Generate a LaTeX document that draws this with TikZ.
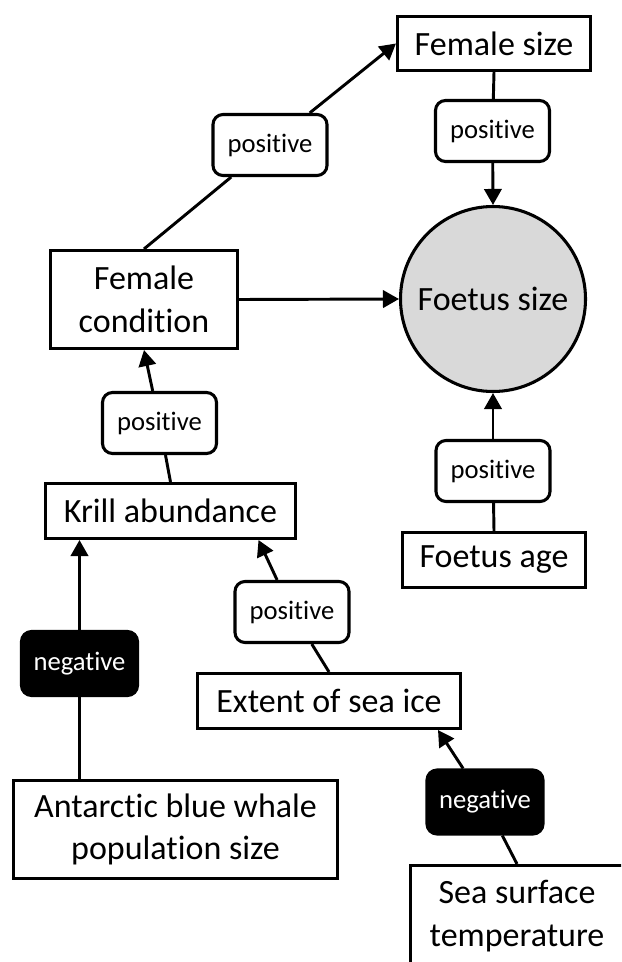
\documentclass[tikz,border=0pt]{standalone}
\usepackage{fontspec}
\setmainfont{Carlito}[Ligatures=NoCommon]
\usetikzlibrary{arrows.meta,calc}

\begin{document}
\begin{tikzpicture}[x=0.75pt,y=-0.75pt,
  box/.style={draw, line width=2.3pt, inner sep=0pt, align=center, font=\fontsize{25.5}{32}\selectfont},
  poslab/.style={draw, fill=white, line width=2.3pt, rounded corners=7.5pt, inner sep=0pt,
    minimum width=85.5pt, minimum height=45.75pt, font=\fontsize{20}{24}\selectfont},
  neglab/.style={draw, fill=black, text=white, line width=2.3pt, rounded corners=7.5pt, inner sep=0pt,
    minimum width=87pt, minimum height=48pt, font=\fontsize{20}{24}\selectfont},
  arr/.style={line width=2.2pt, -{Triangle[length=12pt,width=13pt]}},
  con/.style={line width=2.2pt}]

\useasboundingbox (0,0) rectangle (621,962);
\clip (0,0) rectangle (621,962);

% boxes
\node[box, minimum width=144.75pt, minimum height=40.5pt] (fsize) at (494,43.5) {Female size};
\node[box, minimum width=140.25pt, minimum height=73.5pt] (fcond) at (144,299.5) {Female\\condition};
\node[box, circle, fill=gray!30, minimum size=138.75pt] (foetus) at (493,299) {Foetus size};
\node[box, minimum width=137.25pt, minimum height=41.25pt] (fage) at (494,560) {Foetus age};
\node[box, minimum width=187.5pt, minimum height=41.25pt] (krill) at (170.5,511) {Krill abundance};
\node[box, minimum width=197.25pt, minimum height=41.25pt] (ice) at (329,701) {Extent of sea ice};
\node[box, minimum width=243pt, minimum height=73.5pt] (whale) at (175.5,829.5) {Antarctic blue whale\\population size};
\node[box, minimum width=159.75pt, minimum height=75.75pt] (sst) at (517,916) {Sea surface\\temperature};

% effect labels
\node[poslab] (p1) at (270,145) {positive};
\node[poslab] (p2) at (492.5,131) {positive};
\node[poslab] (p3) at (159.5,423) {positive};
\node[poslab] (p4) at (493,471) {positive};
\node[poslab] (p5) at (292,612) {positive};
\node[neglab] (n1) at (79.5,663.5) {negative};
\node[neglab] (n2) at (485,802) {negative};

% links
\draw[con] (fcond.north) -- (p1);
\draw[arr] (p1) -- (fsize.west);
\draw[con] (fsize.south) -- (p2);
\draw[arr] (p2) -- (foetus.north);
\draw[arr] (fcond.east) -- (foetus.west);
\draw[con] (krill.north) -- (p3);
\draw[arr] (p3) -- (fcond.south);
\draw[con] (fage.north) -- (p4);
\draw[arr] (p4) -- (foetus.south);
\draw[con] (n1 |- whale.north) -- (n1);
\draw[arr] (n1) -- (n1 |- krill.south);
\draw[con] (ice.north) -- (p5);
\draw[arr] (p5) -- ($(krill.south)+(88,0)$);
\draw[con] (sst.north) -- (n2);
\draw[arr] (n2) -- ($(ice.south)+(109,0)$);
\end{tikzpicture}
\end{document}
